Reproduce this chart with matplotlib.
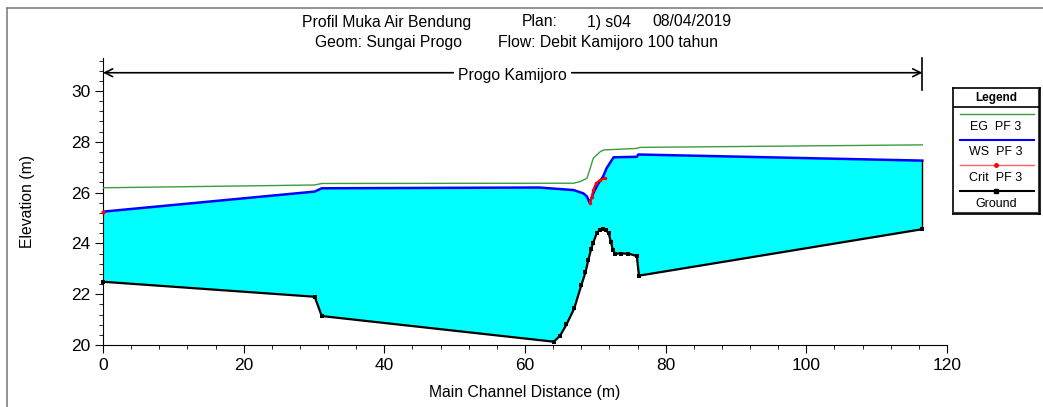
"""
HEC-RAS style water surface profile: Progo Kamijoro
"""

import matplotlib
matplotlib.use("Agg")
import matplotlib.pyplot as plt
from matplotlib.lines import Line2D
from matplotlib.ticker import MultipleLocator

plt.rcParams["font.family"] = ["Liberation Sans", "DejaVu Sans"]

# ground profile (m, m)
ground_x = [0, 30.1, 31.1, 64.1, 65.0, 65.9, 67.0, 68.0, 68.6, 69.0, 69.4, 69.7,
            70.2, 70.6, 71.1, 71.5, 71.9, 72.2, 72.5, 72.8, 73.7, 74.7, 75.9,
            76.2, 116.5]
ground_y = [22.49, 21.9, 21.14, 20.13, 20.37, 20.81, 21.44, 22.35, 22.86, 23.35,
            23.77, 24.03, 24.4, 24.53, 24.55, 24.52, 24.4, 24.07, 23.74, 23.6,
            23.6, 23.6, 23.5, 22.73, 24.56]

# water surface PF 3
ws_x = [0, 30.1, 31.1, 62.0, 66.9, 68.3, 68.8, 69.2, 69.7, 70.4, 71.1, 71.6,
        72.6, 75.9, 76.1, 116.5]
ws_y = [25.25, 26.04, 26.17, 26.2, 26.1, 25.97, 25.85, 25.6, 25.97, 26.35,
        26.63, 26.96, 27.39, 27.41, 27.5, 27.26]

# energy grade PF 3
eg_x = [0, 30.1, 31.1, 66.9, 67.8, 68.8, 69.2, 69.7, 70.7, 71.2, 75.9, 76.3, 116.5]
eg_y = [26.19, 26.3, 26.36, 26.37, 26.43, 26.56, 26.89, 27.35, 27.61, 27.68,
        27.74, 27.78, 27.88]

# critical depth PF 3 (first point stands alone at the downstream end)
crit_x = [0, 69.2, 69.5, 69.7, 70.1, 70.7, 71.4]
crit_y = [25.25, 25.6, 25.84, 26.1, 26.37, 26.5, 26.56]

reach_name = "Progo Kamijoro"
legend_labels = ["EG  PF 3", "WS  PF 3", "Crit  PF 3", "Ground"]

W, H = 1043, 407
fig = plt.figure(figsize=(W / 100, H / 100), dpi=100)

# outer frame (top and left only)
fig.add_artist(Line2D([7 / W, 1], [1 - 8 / H, 1 - 8 / H], color="#808080", lw=1.2))
fig.add_artist(Line2D([7 / W, 7 / W], [0, 1 - 8 / H], color="#808080", lw=1.2))

# title
title_parts = [
    (302, 22, "Profil Muka Air Bendung"),
    (522, 22, "Plan:"),
    (587, 22, "1) s04"),
    (652, 22, "08/04/2019"),
    (315, 42, "Geom: Sungai Progo"),
    (498, 42, "Flow: Debit Kamijoro 100 tahun"),
]
for px, py, txt in title_parts:
    fig.text(px / W, 1 - py / H, txt, ha="left", va="center", fontsize=11.3)

ax = fig.add_axes([103 / W, 1 - 345 / H, (947 - 103) / W, (345 - 58) / H])
ax.set_xlim(0, 120)
ax.set_ylim(20, 31.3)

ax.fill(ws_x + ground_x[::-1], ws_y + ground_y[::-1], color="#00FFFF", lw=0, zorder=1)
ax.plot(eg_x, eg_y, color="#3C9C3C", lw=1.0, zorder=3)
ax.plot(ws_x, ws_y, color="#0000FF", lw=1.8, zorder=4)
ax.plot(crit_x[1:], crit_y[1:], color="#FF0000", lw=1.5, marker="o", ms=2.5,
        mew=0, zorder=5)
ax.plot(crit_x[:1], crit_y[:1], color="#FF0000", ls="none", marker="o", ms=3,
        mew=0, zorder=5, clip_on=False)
ax.plot(ground_x, ground_y, color="black", lw=1.6, marker="s", ms=3, mew=0,
        zorder=6, clip_on=False)
ax.plot([ws_x[-1], ground_x[-1]], [ws_y[-1], ground_y[-1]], color="black", lw=1.0,
        zorder=6)

# reach arrow
ax.annotate("", xy=(0, 30.72), xytext=(116.5, 30.72),
            arrowprops=dict(arrowstyle="<->", lw=1.2, color="black",
                            shrinkA=0, shrinkB=0, mutation_scale=14),
            annotation_clip=False)
ax.plot([116.5, 116.5], [30.05, 31.3], color="black", lw=1.2, clip_on=False)
ax.text(58.2, 30.62, reach_name, ha="center", va="center", fontsize=11.3,
        bbox=dict(facecolor="white", edgecolor="none", pad=3), zorder=7)

for side in ("top", "right"):
    ax.spines[side].set_visible(False)
ax.xaxis.set_major_locator(MultipleLocator(20))
ax.xaxis.set_minor_locator(MultipleLocator(4))
ax.yaxis.set_major_locator(MultipleLocator(2))
ax.yaxis.set_minor_locator(MultipleLocator(0.4))
ax.tick_params(which="major", length=6, labelsize=12.5, pad=3)
ax.tick_params(which="minor", length=3)
ax.set_xlabel("Main Channel Distance (m)", fontsize=11.3, labelpad=9)
ax.set_ylabel("Elevation (m)", fontsize=11.3, labelpad=26)

# legend box
lg = fig.add_axes([953 / W, 1 - 214 / H, 87 / W, 126 / H])
lg.set_xlim(0, 87)
lg.set_ylim(126, 0)
lg.set_xticks([])
lg.set_yticks([])
for sp in lg.spines.values():
    sp.set_linewidth(1.2)
lg.plot([86, 86], [2, 126], color="#404040", lw=1.5, clip_on=False)
lg.plot([2, 86], [125, 125], color="#404040", lw=1.5, clip_on=False)
lg.text(43, 10, "Legend", ha="center", va="center", fontsize=8.5, fontweight="bold")
lg.plot([0, 87], [19, 19], color="black", lw=1.2)

styles = [
    dict(color="#3C9C3C", lw=1.0),
    dict(color="#0000FF", lw=1.5),
    dict(color="#FF6060", lw=1.0, marker="o", ms=2.5, mfc="red", mec="red", markevery=[1]),
    dict(color="black", lw=1.5, marker="s", ms=3.5, markevery=[1]),
]
for i, (label, st) in enumerate(zip(legend_labels, styles)):
    y0 = 26 + i * 25.7
    lg.plot([7, 43, 81], [y0, y0, y0], **st)
    lg.text(43, y0 + 12.5, label, ha="center", va="center", fontsize=9)

fig.savefig("out.png", dpi=100)
